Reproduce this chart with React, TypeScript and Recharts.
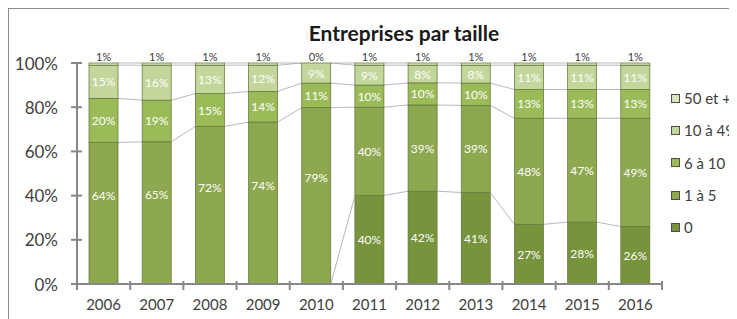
import React from 'react';
import { BarChart, Bar, XAxis, YAxis, LabelList, Legend } from 'recharts';

// ---- data ----
const years = ['2006', '2007', '2008', '2009', '2010', '2011', '2012', '2013', '2014', '2015', '2016'];
const s0 = [0, 0, 0, 0, 0, 40, 42, 41, 27, 28, 26];
const s1to5 = [64, 65, 72, 74, 79, 40, 39, 39, 48, 47, 49];
const s6to10 = [20, 19, 15, 14, 11, 10, 10, 10, 13, 13, 13];
const s10to49 = [15, 16, 13, 12, 9, 9, 8, 8, 11, 11, 11];
const s50plus = [1, 1, 1, 1, 0, 1, 1, 1, 1, 1, 1];
const seriesNames = ['0', '1 à 5', '6 à 10', '10 à 49', '50 et +'];
const yTicks = [0, 0.2, 0.4, 0.6, 0.8, 1];
const title = 'Entreprises par taille';

// ---- styles ----
const colors = ['#77933C', '#8EA84F', '#9BBB59', '#C3D69B', '#D7E4BD'];
const FONT = 'Lato, "Open Sans", sans-serif';
const TEXT = '#404040';
const AXIS = '#878787';
const SERIES_LINE = '#a6a6a6';

const W = 728;
const H = 310;
const MARGIN = { top: 54, right: 75, bottom: 5, left: 8 };
const Y_AXIS_W = 60;
const X_AXIS_H = 30;
const PLOT_W = W - MARGIN.left - MARGIN.right - Y_AXIS_W;
const N = years.length;
const STEP = PLOT_W / N;
const Y_TICK_MARGIN = 19;
const X_TICK_MARGIN = 15;

const allSeries = [s0, s1to5, s6to10, s10to49, s50plus];
const keys = ['v0', 'v1', 'v2', 'v3', 'v4'];
const labelKeys = ['l0', 'l1', 'l2', 'l3', 'l4'];

const rows = years.map((year, i) => {
  const row: Record<string, string | number> = { year };
  allSeries.forEach((s, k) => {
    row[keys[k]] = s[i];
    row[labelKeys[k]] = k === 0 && s[i] === 0 ? '' : `${s[i]}%`;
  });
  return row;
});

// cumulative fractions (expand stacking)
const cum = years.map((_, i) => {
  const total = allSeries.reduce((a, s) => a + s[i], 0);
  let acc = 0;
  return allSeries.map((s) => {
    acc += s[i];
    return acc / total;
  });
});

const idxOf = (props: any) => {
  if (typeof props.index === 'number') return props.index;
  if (props.payload && props.payload.year) return years.indexOf(props.payload.year);
  return -1;
};

// Bar shape for "1 à 5" which also draws the series lines between bars
const SeriesLineShape = (props: any) => {
  const { x, y, width, height, fill, stroke } = props;
  const i = idxOf(props);
  const lines: React.ReactNode[] = [];
  if (i >= 0 && i < N - 1 && height > 0) {
    const low = cum[i][0];
    const high = cum[i][1];
    const h = height / (high - low);
    const bottom = y + height + low * h;
    for (let k = 0; k < allSeries.length; k++) {
      lines.push(
        <line
          key={k}
          x1={x + width}
          x2={x + STEP}
          y1={bottom - cum[i][k] * h}
          y2={bottom - cum[i + 1][k] * h}
          stroke={SERIES_LINE}
          strokeWidth={0.8}
        />
      );
    }
  }
  return (
    <g>
      <rect x={x} y={y} width={width} height={height} fill={fill} stroke={stroke} strokeWidth={0.75} />
      {lines}
    </g>
  );
};

const PlainShape = (props: any) => {
  const { x, y, width, height, fill, stroke } = props;
  if (!height) return <g />;
  return <rect x={x} y={y} width={width} height={height} fill={fill} stroke={stroke} strokeWidth={0.75} />;
};

const innerLabel = (seriesIdx: number) => (props: any) => {
  const vb = props.viewBox || props;
  const { x, y, width, height } = vb;
  const value = props.value;
  if (value === '' || value == null) return null;
  const i = typeof props.index === 'number' ? props.index : -1;
  let shift = 0;
  if (seriesIdx === 1 && i >= 0 && s0[i] === 0) shift = -18;
  return (
    <text
      x={x + width / 2}
      y={y + height / 2 + shift}
      textAnchor="middle"
      dominantBaseline="central"
      fill="#ffffff"
      fontFamily={FONT}
      fontSize={12}
    >
      {value}
    </text>
  );
};

const topLabel = (props: any) => {
  const vb = props.viewBox || props;
  const { x, y, width } = vb;
  return (
    <text x={x + width / 2} y={y - 7} textAnchor="middle" dominantBaseline="central" fill="#3a3a3a" fontFamily={FONT} fontSize={11}>
      {props.value}
    </text>
  );
};

const YTick = (props: any) => {
  const { x, y, payload } = props;
  const ax = x + Y_TICK_MARGIN;
  return (
    <g>
      <line x1={ax - 6} x2={ax + 5} y1={y} y2={y} stroke={AXIS} strokeWidth={2} />
      <text x={x} y={y} textAnchor="end" dominantBaseline="central" fill={TEXT} fontFamily={FONT} fontSize={17}>
        {`${Math.round(payload.value * 100)}%`}
      </text>
    </g>
  );
};

const XTick = (props: any) => {
  const { x, y, payload } = props;
  const ay = y - X_TICK_MARGIN;
  const last = payload.value === years[N - 1];
  return (
    <g>
      <line x1={x - STEP / 2} x2={x - STEP / 2} y1={ay - 3} y2={ay + 6} stroke={AXIS} strokeWidth={2} />
      {last && <line x1={x + STEP / 2} x2={x + STEP / 2} y1={ay - 3} y2={ay + 6} stroke={AXIS} strokeWidth={2} />}
      <text x={x} y={y} dy="0.71em" textAnchor="middle" fill={TEXT} fontFamily={FONT} fontSize={15}>
        {payload.value}
      </text>
    </g>
  );
};

const LegendContent = () => (
  <div style={{ fontFamily: FONT, fontSize: 15, color: TEXT }}>
    {[4, 3, 2, 1, 0].map((k) => (
      <div key={k} style={{ display: 'flex', alignItems: 'center', height: 32.3, whiteSpace: 'nowrap' }}>
        <span
          style={{
            display: 'inline-block',
            width: 7,
            height: 7,
            border: '1px solid #4d4d4d',
            background: colors[k],
            marginRight: 4,
          }}
        />
        {seriesNames[k]}
      </div>
    ))}
  </div>
);

export default function App() {
  return (
    <div
      style={{
        position: 'relative',
        width: 729,
        height: 311,
        overflow: 'hidden',
        borderTop: '1px solid #8c8c8c',
        borderLeft: '1px solid #8c8c8c',
        boxSizing: 'border-box',
        background: '#fff',
      }}
    >
      <div
        style={{
          position: 'absolute',
          left: 395,
          top: 12,
          transform: 'translateX(-50%)',
          fontFamily: FONT,
          fontWeight: 700,
          fontSize: 21,
          color: '#1a1a1a',
          whiteSpace: 'nowrap',
          lineHeight: '24px',
          zIndex: 2,
        }}
      >
        {title}
      </div>
      <BarChart width={W} height={H} data={rows} margin={MARGIN} stackOffset="expand" barSize={29}>
        <XAxis
          dataKey="year"
          height={X_AXIS_H}
          axisLine={{ stroke: AXIS, strokeWidth: 2 }}
          tickLine={false}
          tickSize={0}
          tickMargin={X_TICK_MARGIN}
          tick={<XTick />}
          interval={0}
        />
        <YAxis
          width={Y_AXIS_W}
          ticks={yTicks}
          domain={[0, 1]}
          axisLine={{ stroke: AXIS, strokeWidth: 2 }}
          tickLine={false}
          tickSize={0}
          tickMargin={Y_TICK_MARGIN}
          tick={<YTick />}
          interval={0}
        />
        <Legend
          layout="vertical"
          align="center"
          verticalAlign="middle"
          content={<LegendContent />}
          wrapperStyle={{ position: 'absolute', left: 662, top: 73, width: 80, height: 170 }}
        />
        <Bar dataKey="v0" stackId="a" fill={colors[0]} stroke="#62783a" shape={<PlainShape />} isAnimationActive={false}>
          <LabelList dataKey="l0" content={innerLabel(0)} />
        </Bar>
        <Bar dataKey="v1" stackId="a" fill={colors[1]} stroke="#62783a" shape={<SeriesLineShape />} isAnimationActive={false}>
          <LabelList dataKey="l1" content={innerLabel(1)} />
        </Bar>
        <Bar dataKey="v2" stackId="a" fill={colors[2]} stroke="#62783a" shape={<PlainShape />} isAnimationActive={false}>
          <LabelList dataKey="l2" content={innerLabel(2)} />
        </Bar>
        <Bar dataKey="v3" stackId="a" fill={colors[3]} stroke="#62783a" shape={<PlainShape />} isAnimationActive={false}>
          <LabelList dataKey="l3" content={innerLabel(3)} />
        </Bar>
        <Bar dataKey="v4" stackId="a" fill={colors[4]} stroke="#62783a" shape={<PlainShape />} isAnimationActive={false}>
          <LabelList dataKey="l4" content={topLabel} />
        </Bar>
      </BarChart>
    </div>
  );
}
